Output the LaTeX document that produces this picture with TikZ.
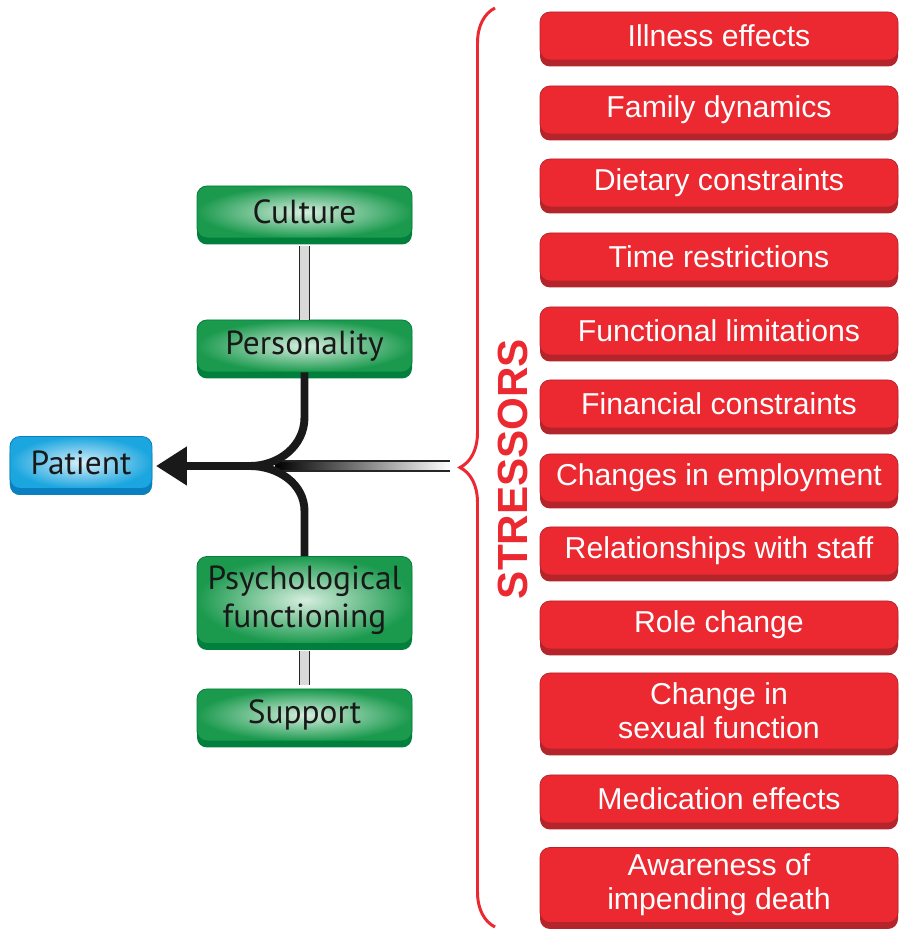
\documentclass[tikz,border=0pt]{standalone}
\usepackage{fontspec}
\setmainfont{Liberation Sans}
\newfontfamily\labelfont{PT Sans}
\usetikzlibrary{positioning, calc, shadows, arrows.meta, decorations.pathreplacing}

\definecolor{stressred}{HTML}{EC2830}
\definecolor{stressdark}{HTML}{B3242B}
\definecolor{factorgreen}{HTML}{1B9A4E}
\definecolor{factorlight}{HTML}{D6EEDF}
\definecolor{factordark}{HTML}{00803C}
\definecolor{patientblue}{HTML}{1BA6DF}
\definecolor{patientlight}{HTML}{D8EFFA}
\definecolor{patientdark}{HTML}{0A80C2}

\begin{document}
\begin{tikzpicture}[
    stressor/.style={draw=stressdark, line width=.4pt, fill=stressred, rounded corners=0.2cm,
        minimum width=7.16cm, minimum height=0.96cm, text=white, align=center,
        font=\fontsize{17.2}{19.5}\selectfont,
        drop shadow={shadow xshift=0pt, shadow yshift=-0.13cm, fill=stressdark, opacity=1}},
    factor/.style={draw=factordark, line width=.5pt, inner color=factorlight, outer color=factorgreen,
        rounded corners=0.2cm, minimum width=4.3cm, minimum height=1.04cm, align=center,
        font=\labelfont\fontsize{19}{21.5}\selectfont, text=black!90,
        drop shadow={shadow xshift=0pt, shadow yshift=-0.13cm, fill=factordark, opacity=1}},
    influence/.style={draw=black!85, double=gray!30, double distance=5pt, line width=.8pt},
    flow/.style={line width=4.5pt, black!90},
  ]
    \useasboundingbox (0,0) rectangle (18.08,18.58);

    % patient and factors
    \node[factor, inner color=patientlight, outer color=patientblue, draw=patientdark,
          drop shadow={shadow xshift=0pt, shadow yshift=-0.13cm, fill=patientdark, opacity=1},
          minimum width=2.84cm] (patient) at (1.62,9.33) {Patient};
    \node[factor] (culture) at (6.09,14.34) {Culture};
    \node[factor] (personality) at (6.09,11.66) {Personality};
    \node[factor, minimum height=1.74cm] (psych) at (6.09,6.58) {Psychological\\functioning};
    \node[factor] (support) at (6.09,4.28) {Support};

    % stressors
    \node[stressor] (illness) at (14.38,17.86) {Illness effects};
    \node[stressor] (family) at (14.38,16.38) {Family dynamics};
    \node[stressor] (diet) at (14.38,14.92) {Dietary constraints};
    \node[stressor] (time) at (14.38,13.44) {Time restrictions};
    \node[stressor] (functional) at (14.38,11.96) {Functional limitations};
    \node[stressor] (financial) at (14.38,10.50) {Financial constraints};
    \node[stressor] (employment) at (14.38,9.02) {Changes in employment};
    \node[stressor] (staff) at (14.38,7.56) {Relationships with staff};
    \node[stressor] (role) at (14.38,6.08) {Role change};
    \node[stressor, minimum height=1.52cm] (sexual) at (14.38,4.36) {Change in\\sexual function};
    \node[stressor] (medication) at (14.38,2.60) {Medication effects};
    \node[stressor, minimum height=1.5cm] (death) at (14.38,0.88) {Awareness of\\impending death};

    \node[rotate=90, text=stressred, font=\bfseries\fontsize{24}{26}\selectfont] (label) at (10.26,9.2) {STRESSORS};

    % brace
    \coordinate (bracebot) at (9.9,0.04);
    \coordinate (bracetop) at (9.9,18.42);
    \draw[stressred, line width=1.7pt, decorate, decoration={brace, amplitude=0.7cm}] (bracebot) -- (bracetop);

    % incoming bar
    \coordinate (merge) at (5.0,9.26);
    \coordinate (barend) at (9.0,9.26);
    \shade[left color=black, right color=white] ($(merge)+(0.5,-0.1)$) rectangle ($(barend)+(0,0.1)$);
    \draw[black!85, line width=.6pt] ($(merge)+(0.5,0.1)$) -- ($(barend)+(0,0.1)$);
    \draw[black!85, line width=.6pt] ($(merge)+(0.5,-0.1)$) -- ($(barend)+(0,-0.1)$);

    % connectors
    \draw[influence, shorten <=0.15cm] (culture.south) -- (personality.north);
    \draw[influence, shorten <=0.15cm, shorten >=0.08cm] (psych.south) -- (support.north);
    \draw[flow] (personality.south) -- ++(0,-0.9) to[out=-90, in=0] (merge);
    \draw[flow] (psych.north) -- ++(0,0.9) to[out=90, in=0] (merge);
    \draw[flow, -{Triangle[length=0.62cm, width=0.74cm]}, shorten >=2pt] (merge) -- (patient.east |- merge);
\end{tikzpicture}
\end{document}
